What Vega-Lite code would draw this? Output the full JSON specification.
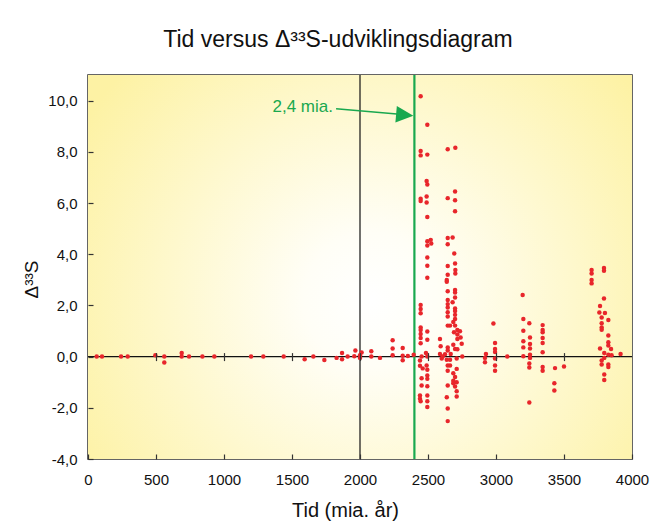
{
  "$schema": "https://vega.github.io/schema/vega-lite/v6.json",
  "width": 544,
  "height": 384,
  "autosize": "none",
  "padding": {"left": 88, "top": 75, "right": 31, "bottom": 67},
  "background": "#ffffff",
  "title": {
    "text": "Tid versus Δ³³S-udviklingsdiagram",
    "fontSize": 23,
    "font": "Liberation Sans",
    "fontWeight": "normal",
    "color": "#111111",
    "anchor": "middle",
    "baseline": "alphabetic",
    "offset": 4,
    "dx": -22
  },
  "config": {
    "view": {"stroke": "#333333", "strokeWidth": 1.5},
    "font": "Liberation Sans"
  },
  "datasets": {
    "points": [
      {"t":64,"d":0},{"t":103,"d":0},{"t":243,"d":0},{"t":292,"d":0},{"t":495,"d":0.05},{"t":561,"d":0},{"t":561,"d":-0.23},{"t":689,"d":0.14},{"t":689,"d":0},{"t":743,"d":0},{"t":841,"d":0},{"t":929,"d":0},{"t":1199,"d":0},{"t":1289,"d":0},{"t":1439,"d":0},{"t":1593,"d":-0.1},{"t":1657,"d":0},{"t":1738,"d":-0.13},{"t":1828,"d":-0.05},{"t":1868,"d":0.14},{"t":1868,"d":-0.1},{"t":1909,"d":0},{"t":1958,"d":0.01},{"t":1966,"d":0.24},{"t":2000,"d":-0.05},{"t":2000,"d":0.05},{"t":2012,"d":0.16},{"t":2083,"d":0.21},{"t":2083,"d":0},{"t":2147,"d":-0.05},{"t":2240,"d":0.64},{"t":2240,"d":0.32},{"t":2240,"d":0.05},{"t":2314,"d":0.34},{"t":2314,"d":0.03},{"t":2314,"d":-0.14},{"t":2352,"d":0.02},{"t":2395,"d":0.07},
      {"t":2446,"d":10.17},{"t":2446,"d":8.03},{"t":2446,"d":7.86},{"t":2446,"d":6.17},{"t":2446,"d":6.08},{"t":2446,"d":2.02},{"t":2446,"d":1.86},{"t":2446,"d":1.69},{"t":2446,"d":1.14},{"t":2446,"d":1.04},{"t":2446,"d":0.88},{"t":2446,"d":0.73},{"t":2446,"d":0.52},{"t":2441,"d":-0.15},{"t":2441,"d":-0.36},{"t":2441,"d":-1.52},{"t":2441,"d":-1.65},{"t":2446,"d":-1.74},{"t":2453,"d":0},{"t":2453,"d":-0.85},{"t":2453,"d":-1.13},{"t":2461,"d":-0.46},
      {"t":2495,"d":9.06},{"t":2495,"d":7.89},{"t":2490,"d":6.86},{"t":2495,"d":6.72},{"t":2490,"d":6.25},{"t":2490,"d":6.02},{"t":2495,"d":5.45},{"t":2495,"d":4.51},{"t":2495,"d":4.34},{"t":2495,"d":3.87},{"t":2495,"d":3.55},{"t":2495,"d":3.08},{"t":2495,"d":0.98},{"t":2495,"d":0.66},{"t":2485,"d":0.14},{"t":2495,"d":0},{"t":2490,"d":-0.35},{"t":2495,"d":-0.51},{"t":2495,"d":-0.74},{"t":2495,"d":-0.87},{"t":2495,"d":-1.16},{"t":2495,"d":-1.52},{"t":2495,"d":-1.74},{"t":2495,"d":-1.97},
      {"t":2520,"d":4.56},{"t":2524,"d":4.42},
      {"t":2588,"d":0.69},{"t":2588,"d":0.1},{"t":2593,"d":0.4},{"t":2608,"d":0},{"t":2601,"d":-0.07},{"t":2625,"d":0.09},
      {"t":2638,"d":2.99},{"t":2638,"d":2.92},{"t":2638,"d":-0.12},{"t":2638,"d":-1.59},
      {"t":2645,"d":8.1},{"t":2645,"d":6.19},{"t":2645,"d":4.63},{"t":2645,"d":4.39},{"t":2645,"d":3.54},{"t":2645,"d":3.2},{"t":2645,"d":2.55},{"t":2645,"d":2.21},{"t":2645,"d":2.05},{"t":2645,"d":1.92},{"t":2645,"d":1.73},{"t":2645,"d":1.57},{"t":2645,"d":1.21},{"t":2645,"d":0.36},{"t":2645,"d":0.24},{"t":2645,"d":-0.35},{"t":2645,"d":-0.55},{"t":2645,"d":-1.13},{"t":2645,"d":-2.03},{"t":2645,"d":-2.52},
      {"t":2662,"d":1.21},{"t":2662,"d":-0.12},{"t":2662,"d":-0.35},{"t":2667,"d":0.1},
      {"t":2681,"d":4.65},{"t":2681,"d":2.12},
      {"t":2686,"d":1.35},{"t":2686,"d":0.46},{"t":2686,"d":-0.65},{"t":2686,"d":-0.94},{"t":2686,"d":-1.04},
      {"t":2691,"d":0.95},{"t":2693,"d":4.03},
      {"t":2699,"d":6.45},{"t":2699,"d":6.11},{"t":2699,"d":5.68},{"t":2699,"d":3.64},{"t":2699,"d":2.6},{"t":2699,"d":2.5},{"t":2699,"d":2.31},{"t":2699,"d":1.88},{"t":2699,"d":1.78},{"t":2699,"d":1.63},{"t":2699,"d":1.47},{"t":2699,"d":1.21},{"t":2699,"d":0.3},{"t":2699,"d":-0.8},{"t":2699,"d":-1.17},
      {"t":2701,"d":8.16},{"t":2701,"d":3.38},{"t":2701,"d":3.25},
      {"t":2711,"d":-0.07},{"t":2711,"d":-0.48},{"t":2711,"d":-1.0},{"t":2711,"d":-1.35},{"t":2711,"d":-1.56},
      {"t":2716,"d":1.04},{"t":2716,"d":0.86},{"t":2716,"d":0.69},{"t":2716,"d":0.29},
      {"t":2735,"d":0.99},{"t":2740,"d":0.75},{"t":2748,"d":0.5},{"t":2752,"d":0},
      {"t":2919,"d":-0.05},{"t":2919,"d":-0.22},{"t":2926,"d":0.1},
      {"t":2981,"d":1.29},{"t":2993,"d":0.53},{"t":2993,"d":0.3},{"t":2993,"d":0.18},{"t":2993,"d":-0.07},{"t":2993,"d":-0.35},{"t":2993,"d":-0.55},
      {"t":3083,"d":0},
      {"t":3196,"d":2.41},{"t":3201,"d":1.47},{"t":3201,"d":1.01},{"t":3201,"d":0.6},{"t":3201,"d":0.36},{"t":3201,"d":0.01},
      {"t":3245,"d":1.3},{"t":3245,"d":-0.27},{"t":3245,"d":-0.43},{"t":3245,"d":-1.79},{"t":3250,"d":0.75},{"t":3250,"d":0.49},{"t":3250,"d":0.32},{"t":3250,"d":0.07},{"t":3250,"d":-0.05},
      {"t":3343,"d":1.23},{"t":3343,"d":1.04},{"t":3343,"d":0.95},{"t":3343,"d":0.73},{"t":3343,"d":0.53},{"t":3343,"d":0.17},{"t":3343,"d":-0.41},{"t":3343,"d":-0.55},
      {"t":3434,"d":-0.45},{"t":3429,"d":-1.04},{"t":3429,"d":-1.32},{"t":3500,"d":-0.39},
      {"t":3703,"d":3.38},{"t":3703,"d":3.25},{"t":3703,"d":2.99},{"t":3703,"d":2.86},
      {"t":3794,"d":3.46},{"t":3794,"d":3.35},{"t":3794,"d":2.27},
      {"t":3765,"d":1.98},{"t":3765,"d":0.32},{"t":3760,"d":1.72},
      {"t":3777,"d":1.53},{"t":3777,"d":1.3},{"t":3777,"d":1.14},{"t":3777,"d":1.05},{"t":3777,"d":-0.15},{"t":3777,"d":-0.31},
      {"t":3801,"d":1.7},
      {"t":3826,"d":1.43},{"t":3826,"d":0.82},{"t":3826,"d":0.56},{"t":3826,"d":0.43},{"t":3826,"d":0.07},{"t":3826,"d":-0.31},{"t":3826,"d":-0.41},
      {"t":3846,"d":0.3},{"t":3850,"d":0.05},
      {"t":3796,"d":0.14},{"t":3796,"d":-0.05},{"t":3796,"d":-0.7},{"t":3796,"d":-0.91},
      {"t":3916,"d":0.1}
    ]
  },
  "layer": [
    {
      "data": {"values": [{}]},
      "mark": {
        "type": "rect",
        "fill": {
          "gradient": "radial",
          "x1": 0.52, "y1": 0.56, "r1": 0,
          "x2": 0.52, "y2": 0.56, "r2": 0.62,
          "stops": [
            {"offset": 0, "color": "#ffffff"},
            {"offset": 0.2, "color": "#fffef6"},
            {"offset": 1, "color": "#fdf2a4"}
          ]
        }
      },
      "encoding": {}
    },
    {
      "data": {"values": [{}]},
      "mark": {"type": "rule", "color": "#111111", "strokeWidth": 1.2},
      "encoding": {
        "y": {"datum": 0, "scale": {"domain": [-4, 11]}}
      }
    },
    {
      "data": {"values": [{}]},
      "mark": {"type": "rule", "color": "#111111", "strokeWidth": 1.2},
      "encoding": {
        "x": {
          "datum": 2000,
          "type": "quantitative",
          "scale": {"domain": [0, 4000]},
          "axis": {
            "orient": "bottom",
            "values": [500, 1000, 1500, 2000, 2500, 3000, 3500],
            "offset": -106.4,
            "tickSize": 8,
            "tickWidth": 1.2,
            "tickColor": "#333333",
            "labels": false,
            "domain": false,
            "grid": false,
            "title": null,
            "zindex": 1
          }
        }
      }
    },
    {
      "data": {"values": [{}]},
      "mark": {"type": "rule", "color": "#19A84F", "strokeWidth": 2.2},
      "encoding": {
        "x": {"datum": 2400, "type": "quantitative", "scale": {"domain": [0, 4000]}, "axis": null}
      }
    },
    {
      "data": {"name": "points"},
      "mark": {"type": "circle", "color": "#E8262B", "size": 20, "opacity": 1},
      "encoding": {
        "x": {
          "field": "t",
          "type": "quantitative",
          "scale": {"domain": [0, 4000]},
          "axis": {
            "orient": "bottom",
            "values": [0, 500, 1000, 1500, 2000, 2500, 3000, 3500, 4000],
            "format": "d",
            "labelFlush": false,
            "labelOverlap": false,
            "tickSize": -5,
            "tickColor": "#333333",
            "tickWidth": 1.2,
            "labelPadding": 18,
            "labelFontSize": 15,
            "labelColor": "#111111",
            "labelFont": "Liberation Sans",
            "domain": false,
            "grid": false,
            "zindex": 1,
            "title": "Tid (mia. år)",
            "titleFont": "Liberation Sans",
            "titleFontSize": 20,
            "titleFontWeight": "normal",
            "titleColor": "#111111",
            "titleBaseline": "alphabetic",
            "titleX": 257,
            "titleY": 57
          }
        },
        "y": {
          "field": "d",
          "type": "quantitative",
          "scale": {"domain": [-4, 11]},
          "axis": {
            "values": [-4, -2, 0, 2, 4, 6, 8, 10],
            "labelExpr": "(datum.value < 0 ? '-' : '') + replace(format(abs(datum.value), '.1f'), '.', ',')",
            "labelFlush": false,
            "labelOverlap": false,
            "tickSize": -5,
            "tickColor": "#333333",
            "tickWidth": 1.2,
            "labelPadding": 16,
            "labelFontSize": 15,
            "labelColor": "#111111",
            "labelFont": "Liberation Sans",
            "domain": false,
            "grid": false,
            "zindex": 1,
            "title": "Δ³³S",
            "titleFont": "Liberation Sans",
            "titleFontSize": 19,
            "titleFontWeight": "normal",
            "titleColor": "#111111",
            "titleX": -47,
            "titleY": 204
          }
        }
      }
    },
    {
      "data": {"values": [{}]},
      "mark": {"type": "rule", "color": "#19A84F", "strokeWidth": 1.6},
      "encoding": {
        "x": {"datum": 1824, "type": "quantitative", "scale": {"domain": [0, 4000]}, "axis": null},
        "y": {"datum": 9.68, "scale": {"domain": [-4, 11]}},
        "x2": {"datum": 2335},
        "y2": {"datum": 9.45}
      }
    },
    {
      "data": {"values": [{}]},
      "mark": {"type": "point", "shape": "M1,0L-1,-0.95L-1,0.95Z", "filled": true, "size": 300, "angle": 5, "color": "#19A84F", "opacity": 1},
      "encoding": {
        "x": {"datum": 2329, "type": "quantitative", "scale": {"domain": [0, 4000]}, "axis": null},
        "y": {"datum": 9.44, "scale": {"domain": [-4, 11]}}
      }
    },
    {
      "data": {"values": [{}]},
      "mark": {"type": "text", "text": "2,4 mia.", "fontSize": 17, "font": "Liberation Sans", "color": "#19A84F", "align": "right", "baseline": "alphabetic"},
      "encoding": {
        "x": {"datum": 1801, "type": "quantitative", "scale": {"domain": [0, 4000]}, "axis": null},
        "y": {"datum": 9.54, "scale": {"domain": [-4, 11]}}
      }
    }
  ],
  "resolve": {"axis": {"x": "independent"}}
}
